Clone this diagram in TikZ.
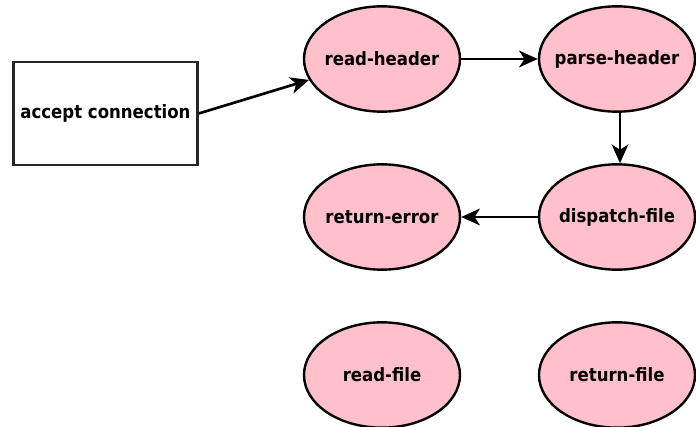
\documentclass[tikz,border=0pt]{standalone}
\usepackage{fontspec}
\setmainfont{DejaVu Sans Condensed}
\usetikzlibrary{shapes.geometric,arrows.meta}
\definecolor{nodepink}{HTML}{FFC0CB}
\newcommand{\lbl}[1]{\makebox[0pt]{#1}}
\begin{document}
\begin{tikzpicture}[x=0.75pt,y=-0.75pt,
  state/.style={ellipse,draw=black,fill=nodepink,line width=1.8pt,minimum width=117pt,minimum height=79pt,inner sep=0pt,font=\bfseries\fontsize{13.8}{15}\selectfont},
  box/.style={rectangle,draw=black!85,line width=1.8pt,minimum width=138pt,minimum height=77.5pt,inner sep=0pt,font=\bfseries\fontsize{13.8}{15}\selectfont},
  conn/.style={line width=2pt,-{Stealth[length=14pt,width=12.5pt,inset=4pt]}}]
\useasboundingbox (0,0) rectangle (696,427);
\node[box] (accept) at (105.5,113.5) {accept connection};
\node[state] (rh) at (382,59) {\lbl{read-header}};
\node[state] (ph) at (617,59) {\lbl{parse-header}};
\node[state] (df) at (617,217) {\lbl{dispatch-file}};
\node[state] (re) at (382,217) {\lbl{return-error}};
\node[state] (rf) at (382,375) {\lbl{read-file}};
\node[state] (rtf) at (617,375) {\lbl{return-file}};
\draw[conn] (accept.east) -- (rh.196);
\draw[conn] (rh) -- (ph);
\draw[conn] (ph.south -| 620,0) -- (df.north -| 620,0);
\draw[conn] (df) -- (re);
\end{tikzpicture}
\end{document}
